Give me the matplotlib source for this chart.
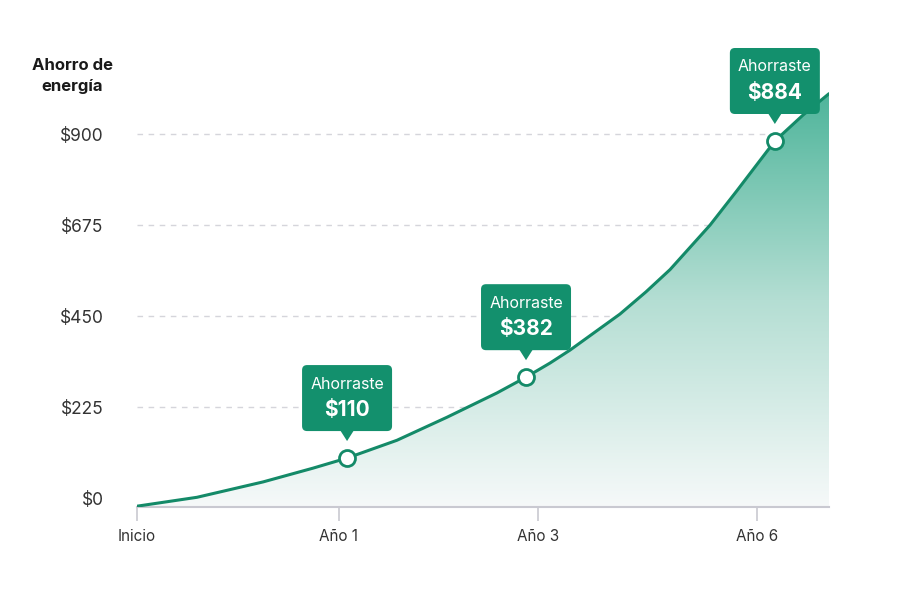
import matplotlib
matplotlib.use("Agg")
import matplotlib.pyplot as plt
import numpy as np
from matplotlib.patches import FancyBboxPatch, Polygon
from matplotlib.colors import LinearSegmentedColormap

plt.rcParams['font.family'] = ['Inter', 'DejaVu Sans']

# curve (x in "tick units": Inicio=0, Año 1=1 ...)
curve_x = [0.0, 0.297, 0.624, 0.871, 1.04, 1.287, 1.535, 1.782, 1.926,
           2.045, 2.144, 2.391, 2.52, 2.639, 2.837, 2.97, 3.158, 3.297, 3.426]
curve_y = [-20, 2, 40, 74, 99, 143, 200, 260, 299,
           334, 366, 455, 510, 565, 675, 760, 883, 947, 1000]

tick_pos = [0.0, 1.0, 1.985, 3.069]
tick_labels = ['Inicio', 'Año 1', 'Año 3', 'Año 6']
y_ticks = [0, 225, 450, 675, 900]
y_labels = ['$0', '$225', '$450', '$675', '$900']

mark_x = [1.04, 1.926, 3.158]
mark_y = [99, 299, 883]
mark_text = ['$110', '$382', '$884']

green = '#13906d'
line_col = '#148a68'

fig = plt.figure(figsize=(9, 6), dpi=100)
ax = fig.add_axes([137/900, 1-507/600, (829-137)/900, (507-50)/600])
ax.set_xlim(0, 3.426)
ax.set_ylim(-22, 1108)

for s in ['top', 'right', 'left']:
    ax.spines[s].set_visible(False)
ax.spines['bottom'].set_color('#c9c9d1')
ax.spines['bottom'].set_linewidth(1.5)

for v in y_ticks[1:]:
    ax.axhline(v, color='#d5d5db', lw=1, ls=(0, (4, 4)), zorder=1)

# gradient fill under the curve
cmap = LinearSegmentedColormap.from_list('g', ['#f6f9f9', '#b4ded3', '#4fb59b'])
grad = np.linspace(0, 1, 256).reshape(-1, 1)
img = ax.imshow(grad, cmap=cmap, origin='lower', aspect='auto',
                extent=[0, 3.426, -22, 1000], zorder=2)
poly = Polygon(list(zip(curve_x, curve_y)) + [(3.426, -22), (0, -22)],
               closed=True, facecolor='none', edgecolor='none')
ax.add_patch(poly)
img.set_clip_path(poly)

ax.plot(curve_x, curve_y, color=line_col, lw=2.2, zorder=3,
        solid_capstyle='round', solid_joinstyle='round')
ax.plot(mark_x, mark_y, 'o', ms=11.5, mfc='white', mec=line_col, mew=2, zorder=4)

ax.set_xticks(tick_pos)
ax.set_xticklabels(tick_labels, fontsize=11, color='#333333')
ax.tick_params(axis='x', length=10, width=1.2, color='#c9c9d1', pad=6)
ax.set_yticks(y_ticks)
ax.set_yticklabels(y_labels, fontsize=12.5, color='#333333')
ax.tick_params(axis='y', length=0, pad=24)

fig.text(72/900, 1-76/600, 'Ahorro de\nenergía', ha='center', va='center',
         fontsize=12, fontweight='bold', color='#1a1a1a', linespacing=1.5)

# callouts, drawn in pixel space above each marker
fig.canvas.draw()
bw, bh = 90, 66
for mx, my, t in zip(mark_x, mark_y, mark_text):
    px, py = ax.transData.transform((mx, my))
    bottom = py + 27
    box = FancyBboxPatch((px - bw/2, bottom), bw, bh, boxstyle='round,pad=0,rounding_size=5',
                         transform=None, facecolor=green, edgecolor='none', zorder=10)
    fig.patches.append(box)
    tri = Polygon([(px - 7, bottom + 1), (px + 7, bottom + 1), (px, py + 17)],
                  closed=True, transform=None, facecolor=green, edgecolor='none', zorder=10)
    fig.patches.append(tri)
    fig.text(px/900, (bottom + bh - 19)/600, 'Ahorraste', ha='center', va='center',
             fontsize=11.5, color='white', zorder=11)
    fig.text(px/900, (bottom + bh - 45)/600, t, ha='center', va='center',
             fontsize=15, fontweight='bold', color='white', zorder=11)

fig.savefig('out.png', dpi=100)
